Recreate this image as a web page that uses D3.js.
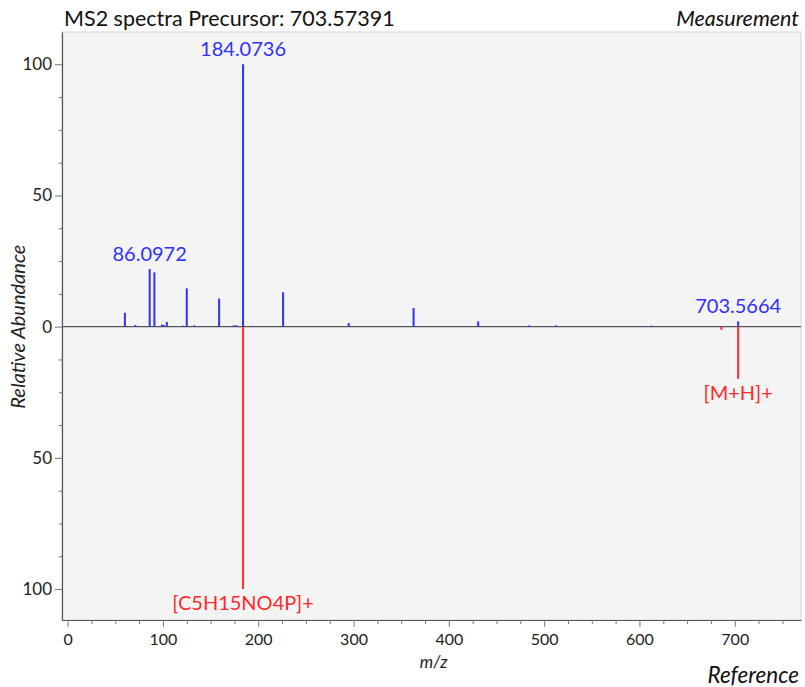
<!DOCTYPE html>
<html>
<head>
<meta charset="utf-8">
<script src="https://cdn.jsdelivr.net/npm/d3@7"></script>
<style>
    body { margin: 0; background: #fff; }
    text { font-family: Lato, "Open Sans", sans-serif; }
</style>
</head>
<body>
<div id="chart"></div>
<script>
// Measured MS2 peaks (m/z, relative abundance)
const measuredMz = [60.08, 71.07, 86.0972, 91.05, 98.98, 101.0, 104.107, 120.9, 124.9996, 133.0,
    158.96, 174.3, 176.8, 184.0736, 194.0, 226.08, 294.9, 363.0, 430.8, 484.3, 512.2, 612.5, 703.5664];
const measuredInt = [5.3, 0.6, 22.0, 20.7, 0.8, 0.6, 1.8, 0.4, 14.6, 0.5,
    10.7, 0.5, 0.5, 100, 0.3, 13.1, 1.4, 7.1, 2.0, 0.5, 0.5, 0.4, 2.0];

// Reference peaks (drawn downward)
const referenceMz = [184.0733, 686.0, 703.5749];
const referenceInt = [100, 1.2, 19.9];

// Annotations
const measuredLabelMz = [184.0736, 86.0972, 703.5664];
const measuredLabelText = ['184.0736', '86.0972', '703.5664'];
const referenceLabelMz = [184.0733, 703.5749];
const referenceLabelText = ['[C5H15NO4P]+', '[M+H]+'];

const xTicks = [0, 100, 200, 300, 400, 500, 600, 700];
const yTicks = [-100, -50, 0, 50, 100];

const width = 805, height = 687;
const plot = { left: 62, right: 801, top: 32, bottom: 620 };
const blue = '#3030ff', red = '#ff2a2a';

const svg = d3.select('#chart')
    .append('svg')
    .attr('width', width)
    .attr('height', height);

const x = d3.scaleLinear().domain([-5.9, 769.5]).range([plot.left, plot.right]);
const y = d3.scaleLinear().domain([-111.8, 112.3]).range([plot.bottom, plot.top]);

// Plot background
svg.append('rect')
    .attr('x', plot.left)
    .attr('y', plot.top)
    .attr('width', plot.right - plot.left)
    .attr('height', plot.bottom - plot.top)
    .attr('fill', '#f4f4f4')
    .attr('stroke', '#d4d4d4');

// Zero line
svg.append('line')
    .attr('x1', plot.left).attr('x2', plot.right)
    .attr('y1', y(0)).attr('y2', y(0))
    .attr('stroke', '#555')
    .attr('stroke-width', 1.2);

// Measured peaks (up)
const measured = measuredMz.map((mz, i) => ({ mz, v: measuredInt[i] }));
svg.append('g')
    .selectAll('line')
    .data(measured)
    .enter()
    .append('line')
    .attr('x1', d => x(d.mz)).attr('x2', d => x(d.mz))
    .attr('y1', y(0)).attr('y2', d => y(d.v))
    .attr('stroke', blue)
    .attr('stroke-width', 2);

// Reference peaks (down)
const reference = referenceMz.map((mz, i) => ({ mz, v: referenceInt[i] }));
svg.append('g')
    .selectAll('line')
    .data(reference)
    .enter()
    .append('line')
    .attr('x1', d => x(d.mz)).attr('x2', d => x(d.mz))
    .attr('y1', y(0)).attr('y2', d => y(-d.v))
    .attr('stroke', red)
    .attr('stroke-width', 2);

// Peak labels
svg.append('g')
    .selectAll('text')
    .data(measuredLabelMz)
    .enter()
    .append('text')
    .attr('x', d => x(d))
    .attr('y', d => y(measuredInt[measuredMz.indexOf(d)]) - 8)
    .attr('text-anchor', 'middle')
    .attr('font-size', '20px')
    .attr('fill', blue)
    .text((d, i) => measuredLabelText[i]);

svg.append('g')
    .selectAll('text')
    .data(referenceLabelMz)
    .enter()
    .append('text')
    .attr('x', d => x(d))
    .attr('y', d => y(-referenceInt[referenceMz.indexOf(d)]) + 21)
    .attr('text-anchor', 'middle')
    .attr('font-size', '20px')
    .attr('fill', red)
    .text((d, i) => referenceLabelText[i]);

// Y axis
const yAxis = svg.append('g')
    .attr('class', 'y-axis')
    .attr('transform', `translate(${plot.left},0)`)
    .call(d3.axisLeft(y).tickValues(yTicks).tickFormat(d => Math.abs(d)).tickSize(7).tickSizeOuter(0).tickPadding(3));
yAxis.append('g')
    .call(d3.axisLeft(y).tickValues(d3.range(-112.5, 112.6, 12.5).filter(d => d % 50 !== 0 && d > -111.8 && d < 112.3))
        .tickFormat('').tickSize(3).tickSizeOuter(0))
    .select('.domain').remove();

// X axis
const xAxis = svg.append('g')
    .attr('class', 'x-axis')
    .attr('transform', `translate(0,${plot.bottom})`)
    .call(d3.axisBottom(x).tickValues(xTicks).tickSize(7).tickSizeOuter(0).tickPadding(7));
xAxis.append('g')
    .call(d3.axisBottom(x).tickValues(d3.range(25, 769, 25).filter(d => d % 100 !== 0))
        .tickFormat('').tickSize(4).tickSizeOuter(0))
    .select('.domain').remove();

svg.selectAll('.domain').attr('stroke', '#555').attr('stroke-width', 1.2);
svg.selectAll('.tick line').attr('stroke', '#777');
svg.selectAll('.tick text')
    .attr('font-family', 'Lato, sans-serif')
    .attr('fill', '#222');
svg.selectAll('.y-axis .tick text').attr('font-size', '17px');
svg.selectAll('.x-axis .tick text').attr('font-size', '16px');

// Titles
svg.append('text')
    .attr('x', 64)
    .attr('y', 26)
    .attr('font-size', '21.5px')
    .attr('fill', '#111')
    .text('MS2 spectra Precursor: 703.57391');

svg.append('text')
    .attr('x', 799)
    .attr('y', 26)
    .attr('text-anchor', 'end')
    .attr('font-size', '21.5px')
    .attr('font-style', 'italic')
    .attr('fill', '#111')
    .text('Measurement');

svg.append('text')
    .attr('x', 799)
    .attr('y', 683)
    .attr('text-anchor', 'end')
    .attr('font-size', '22.5px')
    .attr('font-style', 'italic')
    .attr('fill', '#111')
    .text('Reference');

svg.append('text')
    .attr('x', x(384))
    .attr('y', 668)
    .attr('text-anchor', 'middle')
    .attr('font-size', '17px')
    .attr('font-style', 'italic')
    .attr('fill', '#222')
    .text('m/z');

svg.append('text')
    .attr('transform', `translate(25,${y(0)}) rotate(-90)`)
    .attr('text-anchor', 'middle')
    .attr('font-size', '20px')
    .attr('font-style', 'italic')
    .attr('fill', '#222')
    .text('Relative Abundance');
</script>
</body>
</html>
